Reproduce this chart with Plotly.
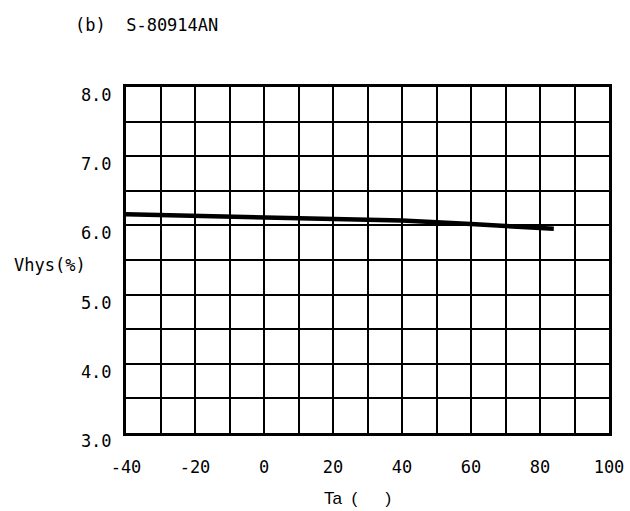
import plotly.graph_objects as go

ta = [-40, -20, 0, 20, 40, 60, 84]
vhys = [6.16, 6.14, 6.12, 6.10, 6.07, 6.02, 5.95]

x_ticks = [-40, -20, 0, 20, 40, 60, 80, 100]
x_labels = ["-40", "-20", "0", "20", "40", "60", "80", "100"]
y_ticks = [3, 4, 5, 6, 7, 8]
y_labels = ["3.0", "4.0", "5.0", "6.0", "7.0", "8.0"]

title_text = "(b)  S-80914AN"
x_title = "Ta  (      )"
y_title = "Vhys(%)"

mono = "DejaVu Sans Mono, monospace"
sans = "Liberation Sans, Arial, sans-serif"

L, R, T, B = 126, 21, 87, 78
W, H = 630, 511
pw, ph = W - L - R, H - T - B


def px_x(x):
    return (x - L) / pw


def px_y(y):
    return (H - B - y) / ph


fig = go.Figure()
fig.add_trace(go.Scatter(x=ta, y=vhys, mode="lines",
                         line=dict(color="black", width=4.5), showlegend=False))

fig.update_layout(
    width=W, height=H,
    margin=dict(l=L, r=R, t=T, b=B),
    paper_bgcolor="white", plot_bgcolor="white",
    font=dict(family=mono, size=17, color="black"),
    showlegend=False,
    annotations=[
        dict(text=title_text, xref="paper", yref="paper",
             x=px_x(73), y=px_y(25),
             xanchor="left", yanchor="middle", showarrow=False,
             font=dict(family=mono, size=17, color="black")),
        dict(text=y_title, xref="paper", yref="paper",
             x=px_x(12), y=px_y(265), xanchor="left", yanchor="middle",
             showarrow=False,
             font=dict(family=mono, size=17, color="black")),
        dict(text=x_title, xref="paper", yref="paper",
             x=px_x(322), y=px_y(498), xanchor="left", yanchor="middle",
             showarrow=False,
             font=dict(family=sans, size=17, color="black")),
    ],
)

fig.update_xaxes(
    range=[-40, 100], tickvals=x_ticks, ticktext=x_labels,
    tickfont=dict(family=mono, size=17, color="black"),
    showgrid=True, gridcolor="black", gridwidth=2,
    minor=dict(dtick=10, tick0=-40, showgrid=True, gridcolor="black", gridwidth=2),
    showline=True, linecolor="black", linewidth=3, mirror=True,
    ticks="", ticklabelstandoff=17, zeroline=False,
    automargin=False, fixedrange=True,
)
fig.update_yaxes(
    range=[3, 8], tickvals=y_ticks, ticktext=y_labels,
    tickfont=dict(family=mono, size=17, color="black"),
    showgrid=True, gridcolor="black", gridwidth=2,
    minor=dict(dtick=0.5, tick0=3, showgrid=True, gridcolor="black", gridwidth=2),
    showline=True, linecolor="black", linewidth=3, mirror=True,
    ticks="", ticklabelstandoff=8, ticklabelshift=8, zeroline=False,
    automargin=False, fixedrange=True,
)

fig.write_html("out.html")
